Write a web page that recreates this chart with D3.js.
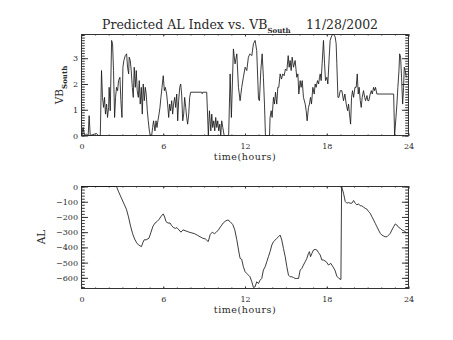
<!DOCTYPE html>
<html>
<head>
<meta charset="utf-8">
<script src="https://cdn.jsdelivr.net/npm/d3@7"></script>
<style>
  html, body { margin: 0; padding: 0; background: #fff; }
  svg text { font-family: "DejaVu Serif", serif; fill: #2a2a2a; }
</style>
</head>
<body>
<svg id="chart" width="453" height="340"></svg>
<script>
// Solar wind southward driver VB_South (mV/m) and predicted AL (nT), 28 Nov 2002
const vbTime = [0.00,0.12,0.22,0.37,0.49,0.56,0.64,1.10,1.23,1.38,1.47,1.54,1.62,1.69,1.76,1.84,1.91,1.99,2.03,2.11,2.21,2.28,2.35,2.43,2.50,2.57,2.65,2.72,2.82,2.89,2.97,3.04,3.11,3.21,3.31,3.38,3.46,3.50,3.58,3.65,3.73,3.80,3.87,3.95,4.02,4.09,4.17,4.24,4.31,4.39,4.46,4.53,4.61,4.68,4.75,4.83,4.90,4.98,5.05,5.15,5.22,5.29,5.39,5.47,5.54,5.61,5.69,5.76,5.83,5.91,6.00,6.08,6.15,6.25,6.32,6.40,6.47,6.54,6.62,6.69,6.76,6.84,6.91,6.99,7.06,7.13,7.21,7.28,7.35,7.43,7.50,7.57,7.65,7.72,7.79,7.87,7.94,8.01,8.82,8.86,8.90,9.19,9.31,9.39,9.49,9.56,9.63,9.71,9.78,9.85,9.93,10.00,10.07,10.15,10.22,10.29,10.37,10.47,10.80,10.91,11.00,11.15,11.27,11.40,11.52,11.64,11.76,11.88,12.01,12.13,12.25,12.37,12.50,12.62,12.74,12.86,12.99,13.06,13.16,13.26,13.35,13.43,13.50,13.80,13.84,13.92,13.99,14.09,14.16,14.24,14.33,14.41,14.48,14.58,14.68,14.77,14.87,14.97,15.07,15.17,15.24,15.31,15.39,15.46,15.56,15.68,15.80,15.88,15.95,16.05,16.12,16.20,16.29,16.42,16.49,16.56,16.66,16.73,16.81,16.88,16.98,17.08,17.15,17.22,17.32,17.40,17.47,17.52,17.59,17.66,17.76,17.84,17.91,18.01,18.08,18.18,18.25,18.33,18.42,18.52,18.62,18.69,18.74,18.82,18.89,18.99,19.11,19.23,19.33,19.43,19.53,19.60,19.67,19.75,19.82,19.89,19.97,20.07,20.16,20.24,20.31,20.38,20.46,20.53,20.60,20.70,20.78,20.85,20.95,21.02,21.09,21.19,21.27,21.34,21.44,21.51,21.58,21.68,22.91,22.98,23.08,23.15,23.22,23.30,23.35,23.42,23.49,23.57,23.64,23.69,23.76,23.84];
const vbValue = [0,0.31,0,0.05,0,0.77,0,0.08,0,0,2.52,1.48,1.09,1.48,0.83,1.22,0.70,1.09,1.87,0.96,3.69,3.56,2.52,0.70,1.48,1.87,1.74,2.13,2.26,1.35,0.70,2.65,2.91,3.10,3.17,2.65,2.39,3.04,2.91,2.52,1.87,1.48,2.65,1.87,2.52,1.74,1.48,2.13,1.22,1.87,0.83,2.00,1.35,1.87,1.61,0.96,0.57,0.18,0,0,0.31,0.57,0.18,0.57,0.31,0.57,0.83,1.09,1.48,1.87,2.32,1.74,1.87,1.61,1.22,0.70,1.22,0.96,1.35,0.83,1.22,1.48,1.09,1.61,0.57,1.35,1.87,2.00,1.61,0.57,0.83,1.48,1.09,0.70,0.44,0.83,1.48,1.68,1.68,1.62,1.68,1.68,0,0.96,0.18,0.83,0.31,0.57,0.18,0.70,0.31,0.57,0.18,0.44,0,0.57,0.31,0,0,2.39,0.70,3.36,2.78,3.17,1.87,1.35,1.87,2.26,2.65,2.52,3.04,3.17,3.10,3.56,3.69,3.30,1.42,1.35,2.52,3.17,2.26,1.22,0,0,0.70,0.96,0.70,1.48,1.22,1.68,1.22,1.87,1.87,2.39,2.19,2.39,2.32,2.58,2.52,3.10,2.65,2.91,2.52,3.04,2.65,2.91,2.26,2.39,1.61,2.13,1.87,2.13,1.48,1.22,0.96,0.57,1.09,1.22,1.48,1.22,1.87,1.61,2.00,1.87,2.13,2.00,2.26,2.39,2.13,2.78,3.69,2.78,2.13,2.26,2.00,3.04,3.69,3.82,3.92,3.92,3.82,3.56,2.78,1.48,1.48,1.74,1.74,1.35,1.61,1.22,0.96,1.22,0.83,0.44,1.48,1.74,1.48,1.87,1.87,2.39,1.61,1.87,1.35,1.09,1.48,1.74,1.48,1.35,1.55,1.35,1.35,1.61,1.74,1.61,1.87,1.74,1.87,1.61,1.61,0,0.70,1.22,1.87,2.52,3.17,3.04,2.26,1.22,1.87,2.65,2.52,2.26];

const alTime = [0,2.57,2.70,2.90,3.10,3.30,3.45,3.60,3.75,3.90,4.05,4.20,4.30,4.40,4.50,4.60,4.75,4.95,5.10,5.25,5.40,5.55,5.70,5.85,6.00,6.10,6.20,6.35,6.50,6.60,6.75,6.90,7.00,7.15,7.30,7.45,7.60,7.75,7.90,8.10,8.30,8.50,8.70,8.90,9.10,9.30,9.45,9.60,9.75,9.90,10.05,10.20,10.40,10.60,10.75,10.90,11.10,11.25,11.40,11.55,11.64,11.76,11.88,12.01,12.13,12.25,12.37,12.50,12.62,12.74,12.86,12.99,13.11,13.23,13.35,13.48,13.60,13.72,13.84,13.97,14.09,14.21,14.33,14.46,14.58,14.70,14.82,14.95,15.07,15.19,15.31,15.44,15.56,15.68,15.80,15.93,16.05,16.17,16.29,16.42,16.54,16.66,16.73,16.81,16.91,17.03,17.15,17.27,17.40,17.52,17.64,17.76,17.96,18.13,18.30,18.45,18.60,18.74,18.89,19.04,19.09,19.23,19.36,19.48,19.60,19.72,19.84,19.97,20.09,20.21,20.33,20.46,20.58,20.70,20.82,20.95,21.07,21.19,21.31,21.44,21.56,21.68,21.80,21.93,22.05,22.17,22.29,22.42,22.54,22.66,22.78,22.91,23.03,23.15,23.27,23.40,23.52,23.64,23.76,23.84];
const alValue = [0,0,-30,-70,-110,-150,-200,-260,-310,-345,-370,-385,-390,-395,-370,-350,-350,-340,-300,-260,-240,-230,-215,-195,-180,-200,-230,-240,-240,-255,-270,-275,-270,-285,-300,-285,-290,-295,-300,-305,-310,-320,-330,-340,-345,-362,-315,-300,-310,-300,-285,-265,-240,-225,-220,-230,-250,-285,-350,-430,-472,-479,-527,-560,-571,-582,-593,-626,-663,-659,-626,-637,-615,-604,-549,-527,-494,-461,-428,-384,-363,-352,-341,-330,-319,-352,-406,-461,-527,-582,-593,-593,-598,-604,-604,-604,-549,-538,-516,-494,-472,-439,-428,-461,-439,-417,-413,-417,-435,-450,-483,-483,-494,-516,-505,-527,-549,-589,-604,-611,0,-44,-99,-110,-105,-110,-110,-92,-110,-121,-114,-127,-127,-136,-143,-149,-165,-176,-198,-220,-242,-264,-286,-308,-319,-325,-330,-330,-319,-308,-286,-264,-246,-253,-268,-275,-286,-290,-297,-303];

const hourMajor = [0, 6, 12, 18, 24];
const vbTicks = [0, 1, 2, 3];
const alTicks = [0, -100, -200, -300, -400, -500, -600];

const svg = d3.select("#chart");
const left = 81.5, right = 408.5;
const tickFont = 8;

const x = d3.scaleLinear().domain([0, 24]).range([left, right]);
const hourMinor = d3.range(0, 25, 1);

function panel(top, bottom, yScale, majorY, minorStep, tFmt, times, values) {
  const g = svg.append("g");
  const h = bottom - top, w = right - left;
  const yMinor = d3.range(yScale.domain()[0], yScale.domain()[1] + 1e-9, minorStep)
    .map(v => Math.round(v / minorStep) * minorStep);
  // tick lengths as a fraction of the opposite plot extent
  const xTickMaj = 0.02 * h, xTickMin = 0.01 * h;
  const yTickMaj = 0.02 * w, yTickMin = 0.01 * w;

  const strip = sel => { sel.select(".domain").remove(); sel.selectAll("line").attr("stroke", "#333"); };
  const labelFont = sel => sel.selectAll("text").attr("font-size", tickFont);

  // bottom axis: minor + major with labels
  g.append("g").attr("transform", `translate(0,${bottom})`)
    .call(d3.axisBottom(x).tickValues(hourMinor).tickSize(-xTickMin).tickFormat(""))
    .call(strip);
  g.append("g").attr("transform", `translate(0,${bottom})`)
    .call(d3.axisBottom(x).tickValues(hourMajor).tickSize(-xTickMaj).tickPadding(8).tickFormat(d3.format("d")))
    .call(strip).call(labelFont);
  // top axis ticks
  g.append("g").attr("transform", `translate(0,${top})`)
    .call(d3.axisTop(x).tickValues(hourMinor).tickSize(-xTickMin).tickFormat(""))
    .call(strip);
  g.append("g").attr("transform", `translate(0,${top})`)
    .call(d3.axisTop(x).tickValues(hourMajor).tickSize(-xTickMaj).tickFormat(""))
    .call(strip);
  // left axis
  g.append("g").attr("transform", `translate(${left},0)`)
    .call(d3.axisLeft(yScale).tickValues(yMinor).tickSize(-yTickMin).tickFormat(""))
    .call(strip);
  g.append("g").attr("transform", `translate(${left},0)`)
    .call(d3.axisLeft(yScale).tickValues(majorY).tickSize(-yTickMaj).tickPadding(3.5).tickFormat(tFmt))
    .call(strip).call(labelFont);
  // right axis ticks
  g.append("g").attr("transform", `translate(${right},0)`)
    .call(d3.axisRight(yScale).tickValues(yMinor).tickSize(-yTickMin).tickFormat(""))
    .call(strip);
  g.append("g").attr("transform", `translate(${right},0)`)
    .call(d3.axisRight(yScale).tickValues(majorY).tickSize(-yTickMaj).tickFormat(""))
    .call(strip);

  // frame
  g.append("rect").attr("x", left).attr("y", top).attr("width", w).attr("height", h)
    .attr("fill", "none").attr("stroke", "#333").attr("stroke-width", 1);

  // data trace
  const pts = times.map((t, i) => [t, values[i]]);
  g.append("path").datum(pts)
    .attr("fill", "none").attr("stroke", "#1a1a1a").attr("stroke-width", 0.85)
    .attr("stroke-linejoin", "round")
    .attr("d", d3.line().x(d => x(d[0])).y(d => yScale(d[1])));

  // x title
  g.append("text").attr("x", (left + right) / 2).attr("y", bottom + 24.5)
    .attr("text-anchor", "middle").attr("font-size", 9.5).attr("letter-spacing", 0.55)
    .text("time(hours)");
  return g;
}

const yTop = d3.scaleLinear().domain([0, 3.92]).range([135.5, 34.5]);
const yBot = d3.scaleLinear().domain([-670, 0]).range([288.5, 186.5]);

panel(34.5, 135.5, yTop, vbTicks, 0.1, d3.format("d"), vbTime, vbValue);
panel(186.5, 288.5, yBot, alTicks, 20, d => d === 0 ? "0" : "\u2212" + Math.abs(d), alTime, alValue);

// y titles
const vbLab = svg.append("text").attr("transform", "translate(63,85) rotate(-90)")
  .attr("text-anchor", "middle").attr("font-size", 10.5);
vbLab.append("tspan").text("VB");
vbLab.append("tspan").attr("dy", 4).attr("font-size", 7).attr("font-weight", "bold").text("South");

svg.append("text").attr("transform", "translate(45,237) rotate(-90)")
  .attr("text-anchor", "middle").attr("font-size", 10.5).text("AL");

// chart title
const title = svg.append("text").attr("x", 102).attr("y", 29).attr("font-size", 12.5);
title.append("tspan").text("Predicted AL Index vs. VB");
title.append("tspan").attr("dy", 4).attr("font-size", 7).attr("font-weight", "bold").text("South");
title.append("tspan").attr("x", 306).attr("y", 29).text("11/28/2002");
</script>
</body>
</html>
